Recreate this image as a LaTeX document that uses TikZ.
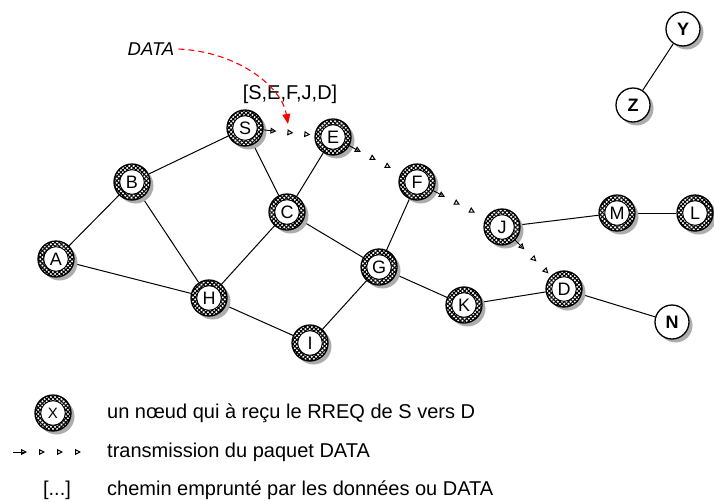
\documentclass[tikz,border=0pt]{standalone}
\usepackage{fontspec}
\setmainfont{Liberation Sans}
\usetikzlibrary{arrows.meta,patterns.meta,decorations.markings,shadows,backgrounds}

\tikzset{
  pk/.tip={Triangle[open,length=6pt,width=6pt,line width=1pt]},
  base/.style={circle, minimum size=36pt, inner sep=0pt, draw, line width=1.3pt, fill=white,
    font=\fontsize{18}{18}\selectfont,
    drop shadow={shadow xshift=3.5pt, shadow yshift=-3.5pt, fill=black!32, opacity=1}},
  hnode/.style={base, path picture={
    \fill[pattern={Lines[angle=45,distance=3pt,line width=1.1pt]}]
      (path picture bounding box.south west) rectangle (path picture bounding box.north east);
    \fill[pattern={Lines[angle=-45,distance=3pt,line width=1.1pt]}]
      (path picture bounding box.south west) rectangle (path picture bounding box.north east);
    \draw[fill=white, line width=0.9pt] (path picture bounding box.center) circle (12.3pt);}},
  pnode/.style={base, minimum size=34pt, font=\fontsize{18}{18}\selectfont\bfseries},
  edge/.style={draw, line width=1pt},
  pkt/.style={decorate, decoration={markings,
    mark=at position 0.01pt with {\draw[line width=0.9pt] (0,0) -- (10pt,0);},
    mark=at position 13pt with {\arrow{pk}},
    mark=at position 30pt with {\arrow{pk}},
    mark=at position 47pt with {\arrow{pk}}}},
  legpkt/.style={decorate, decoration={markings,
    mark=at position 0.01pt with {\draw[line width=0.9pt] (0,0) -- (12pt,0);},
    mark=at position 14pt with {\arrow{pk}},
    mark=at position 32pt with {\arrow{pk}},
    mark=at position 50pt with {\arrow{pk}},
    mark=at position 68pt with {\arrow{pk}}}},
  txt/.style={font=\fontsize{20}{24}\selectfont, inner sep=0pt},
  datacurve/.style={draw=red, line width=1.1pt, dash pattern=on 6pt off 4pt,
    -{Triangle[length=10pt,width=8pt,fill=red]}},
}

\begin{document}
\begin{tikzpicture}[x=1pt, y=-1pt]
\useasboundingbox (0,0) rectangle (714,501);

% nodes
\node[hnode] (S) at (245,128) {S};
\node[hnode] (E) at (333,137) {E};
\node[hnode] (B) at (132,182) {B};
\node[hnode] (C) at (287,212) {C};
\node[hnode] (F) at (417,182) {F};
\node[hnode] (J) at (502,227) {J};
\node[hnode] (M) at (617,213) {M};
\node[hnode] (L) at (695,213) {L};
\node[hnode] (A) at (56,259) {A};
\node[hnode] (G) at (379,267) {G};
\node[hnode] (H) at (209,298) {H};
\node[hnode] (K) at (464,305) {K};
\node[hnode] (D) at (564,289) {D};
\node[hnode] (I) at (310,343) {I};
\node[pnode] (N) at (672,322) {N};
\node[pnode] (Y) at (683,29) {Y};
\node[pnode] (Z) at (633,105) {Z};

% edges
\begin{scope}[on background layer]
\draw[edge] (A) -- (B);
\draw[edge] (A) -- (H);
\draw[edge] (B) -- (S);
\draw[edge] (B) -- (H);
\draw[edge] (S) -- (C);
\draw[edge] (E) -- (C);
\draw[edge] (C) -- (H);
\draw[edge] (C) -- (G);
\draw[edge] (H) -- (I);
\draw[edge] (I) -- (G);
\draw[edge] (G) -- (F);
\draw[edge] (G) -- (K);
\draw[edge] (K) -- (D);
\draw[edge] (D) -- (N);
\draw[edge] (J) -- (M);
\draw[edge] (M) -- (L);
\draw[edge] (Y) -- (Z);
\end{scope}

% packet transmission
\path[pkt] (S) -- (E);
\path[pkt] (E) -- (F);
\path[pkt] (F) -- (J);
\path[pkt] (J) -- (D);

% DATA annotation
\node[txt, font=\fontsize{18.5}{22}\selectfont\itshape] (data) at (151,49) {DATA};
\node[txt] (route) at (290,94) {[S,E,F,J,D]};
\coordinate (dtip) at (288,124);
\path (data.east) ++(4pt,0) coordinate (dstart);
\draw[datacurve] (dstart) .. controls (240,52) and (282,88) .. (dtip);

% legend
\node[hnode, font=\fontsize{15}{15}\selectfont] (X) at (53,413) {X};
\node[txt, anchor=west] (t1) at (107,413) {un nœud qui à reçu le RREQ de S vers D};
\coordinate (l1) at (13,452);
\coordinate (l2) at (90,452);
\path[legpkt] (l1) -- (l2);
\node[txt, anchor=west] (t2) at (107,452) {transmission du paquet DATA};
\node[txt] (t3) at (57,490) {[...]};
\node[txt, anchor=west] (t4) at (107,490) {chemin emprunté par les données ou DATA};
\end{tikzpicture}
\end{document}
